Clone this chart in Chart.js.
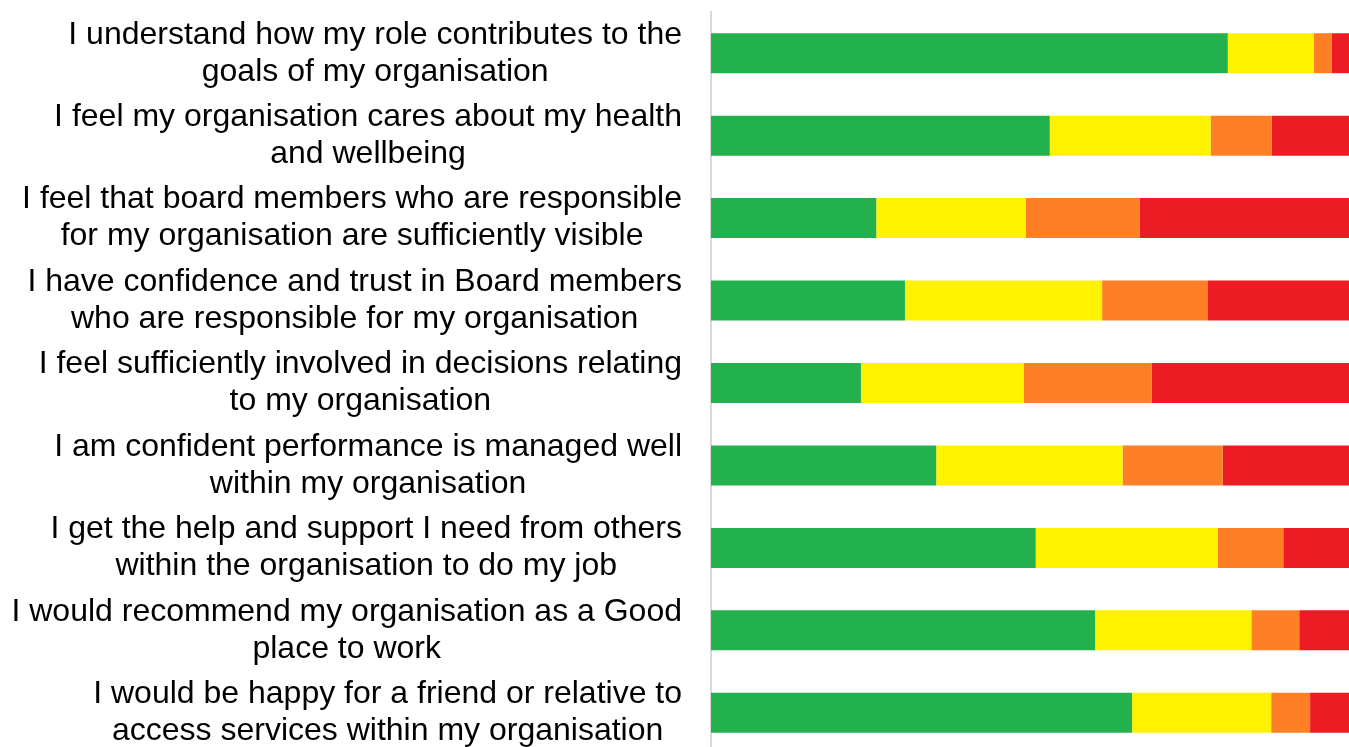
<!DOCTYPE html>
<html>
<head>
<meta charset="utf-8">
<title>Staff survey</title>
<script src="https://cdn.jsdelivr.net/npm/chart.js@4"></script>
<style>
  html, body { margin: 0; padding: 0; background: #fff; overflow: hidden; }
  #wrap { width: 1349px; height: 755px; }
</style>
</head>
<body>
<div id="wrap"><canvas id="surveyChart" width="1349" height="755"></canvas></div>
<script>
// Survey statements (each line of a label is one array entry)
const statements = [
    ["I understand how my role contributes to the", "goals of my organisation"],
    ["I feel my organisation cares about my health", "and wellbeing"],
    ["I feel that board members who are responsible", "for my organisation are sufficiently visible"],
    ["I have confidence and trust in Board members", "who are responsible for my organisation"],
    ["I feel sufficiently involved in decisions relating", "to my organisation"],
    ["I am confident performance is managed well", "within my organisation"],
    ["I get the help and support I need from others", "within the organisation to do my job"],
    ["I would recommend my organisation as a Good", "place to work"],
    ["I would be happy for a friend or relative to", "access services within my organisation"]
];

// Share of responses (%) per statement
const greenVals  = [81.0, 53.1, 25.9, 30.4, 23.5, 35.3, 50.9, 60.2, 66.0];
const yellowVals = [13.5, 25.2, 23.4, 30.9, 25.5, 29.2, 28.5, 24.5, 21.8];
const orangeVals = [ 2.8,  9.6, 17.9, 16.6, 20.1, 15.7, 10.3,  7.5,  6.1];
const redVals    = [ 2.7, 12.1, 32.8, 22.1, 30.9, 19.8, 10.3,  7.8,  6.1];

// Draw the statement labels: block right-aligned, lines centred inside it
const statementLabels = {
    id: "statementLabels",
    afterDraw(chart) {
        const ctx = chart.ctx;
        const yScale = chart.scales.y;
        const rightEdge = chart.chartArea.left - 29;
        const lineGap = 37;
        ctx.save();
        ctx.font = "32px 'Liberation Sans', Arial, sans-serif";
        ctx.fillStyle = "#000";
        ctx.textAlign = "center";
        ctx.textBaseline = "middle";
        statements.forEach((lines, i) => {
            const yc = yScale.getPixelForValue(i);
            const maxW = Math.max(...lines.map(l => ctx.measureText(l).width));
            const cx = rightEdge - maxW / 2;
            const top = yc - (lines.length - 1) * lineGap / 2;
            lines.forEach((line, j) => ctx.fillText(line, cx, top + j * lineGap));
        });
        ctx.restore();
    }
};

const ctxSurvey = document.getElementById("surveyChart").getContext("2d");
const surveyChart = new Chart(ctxSurvey, {
    type: "bar",
    data: {
        labels: statements,
        datasets: [
            { label: "Agree", data: greenVals, backgroundColor: "#23B14D" },
            { label: "Neutral", data: yellowVals, backgroundColor: "#FFF200" },
            { label: "Disagree", data: orangeVals, backgroundColor: "#FF7F27" },
            { label: "Strongly disagree", data: redVals, backgroundColor: "#ED1C24" }
        ]
    },
    options: {
        indexAxis: "y",
        responsive: false,
        animation: false,
        datasets: {
            bar: { barPercentage: 0.485, categoryPercentage: 1 }
        },
        layout: { padding: { left: 703, right: 0, top: 12, bottom: 1 } },
        scales: {
            x: { stacked: true, min: 0, max: 100, display: false },
            y: {
                stacked: true,
                grid: { display: false },
                border: { display: true, color: "#d9d9d9", width: 2 },
                ticks: { display: false }
            }
        },
        plugins: {
            legend: { display: false },
            tooltip: { enabled: false }
        }
    },
    plugins: [statementLabels]
});
</script>
</body>
</html>
